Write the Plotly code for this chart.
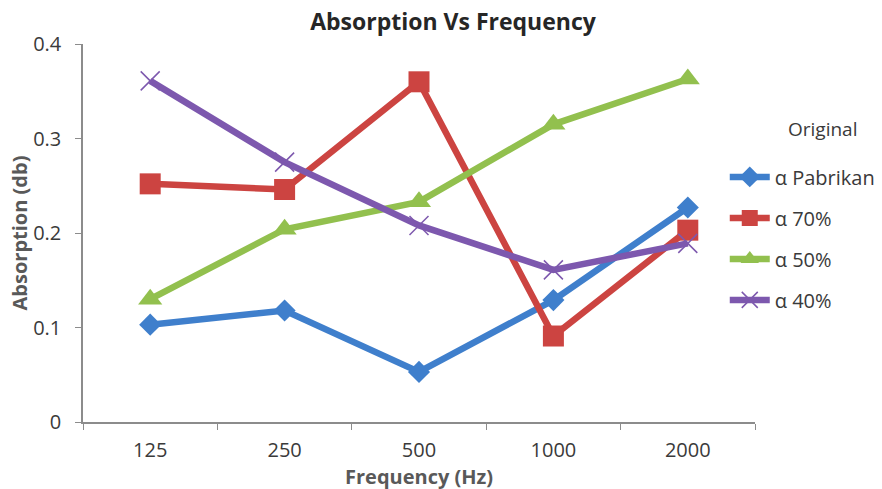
import plotly.graph_objects as go

categories = ["125", "250", "500", "1000", "2000"]
pabrikan = [0.103, 0.118, 0.053, 0.129, 0.227]
a70 = [0.252, 0.246, 0.360, 0.091, 0.203]
a50 = [0.130, 0.204, 0.233, 0.315, 0.363]
a40 = [0.361, 0.275, 0.208, 0.161, 0.189]
y_ticks = [0, 0.1, 0.2, 0.3, 0.4]
y_tick_labels = ["0", "0.1", "0.2", "0.3", "0.4"]

FONT = "'Open Sans', sans-serif"
GRAY_TXT = "#595959"
TXT = "#3a3a3a"
AXIS = "#8c8c8c"

fig = go.Figure()

series = [
    ("α Pabrikan", pabrikan, "#3F7FCC", dict(symbol="diamond", size=17)),
    ("α 70%", a70, "#CC4441", dict(symbol="square", size=21)),
    ("α 50%", a50, "#92C04E", dict(symbol="triangle-up", size=21)),
    ("α 40%", a40, "#7D58AE", dict(symbol="x-thin", size=19,
                                   line=dict(width=1.5, color="#7D58AE"))),
]
for i, (name, vals, col, mk) in enumerate(series):
    mk = dict(mk)
    mk.setdefault("color", col)
    fig.add_trace(go.Scatter(
        x=categories, y=vals, name=name, mode="lines+markers",
        line=dict(color=col, width=6.5), marker=mk,
        legendgroup=f"g{i}",
    ))

fig.update_layout(
    width=882, height=489,
    margin=dict(l=83, r=127, t=44, b=67, autoexpand=False),
    paper_bgcolor="white", plot_bgcolor="white",
    font=dict(family=FONT, size=20, color=TXT),
    title=dict(text="<b>Absorption Vs Frequency</b>", x=453 / 882, xanchor="center",
               y=1 - 22 / 489, yanchor="middle", font=dict(size=23, color="#262626")),
    showlegend=True,
    legend=dict(
        x=0.955, xanchor="left", y=0.70, yanchor="top",
        font=dict(size=20, color=TXT),
        tracegroupgap=12, itemwidth=40,
        bgcolor="rgba(0,0,0,0)",
    ),
    annotations=[
        dict(text="Original", xref="paper", yref="paper",
             x=(822 - 83) / 672, y=(422 - 129) / 378, xanchor="center", yanchor="middle",
             showarrow=False, font=dict(size=19, color=TXT)),
        dict(text="<b>Frequency (Hz)</b>", xref="paper", yref="paper",
             x=(419 - 83) / 672, y=(422 - 476) / 378, xanchor="center", yanchor="middle",
             showarrow=False, font=dict(size=20, color=GRAY_TXT)),
    ],
)
fig.update_xaxes(
    type="category", range=[-0.5, 4.5],
    showline=True, linecolor=AXIS, linewidth=1.5,
    ticks="outside", tickson="boundaries", ticklen=6, tickcolor=AXIS,
    showgrid=False, zeroline=False, ticklabelstandoff=9,
    tickfont=dict(size=20, color=TXT),
)
fig.update_yaxes(
    range=[0, 0.4], tickvals=y_ticks, ticktext=y_tick_labels,
    showline=True, linecolor=AXIS, linewidth=1.5,
    ticks="outside", ticklen=6, tickcolor=AXIS,
    showgrid=False, zeroline=False, ticklabelstandoff=10,
    tickfont=dict(size=20, color=TXT),
    title=dict(text="<b>Absorption (db)</b>", font=dict(size=20, color=GRAY_TXT), standoff=0),
)

fig.write_html("out.html")
